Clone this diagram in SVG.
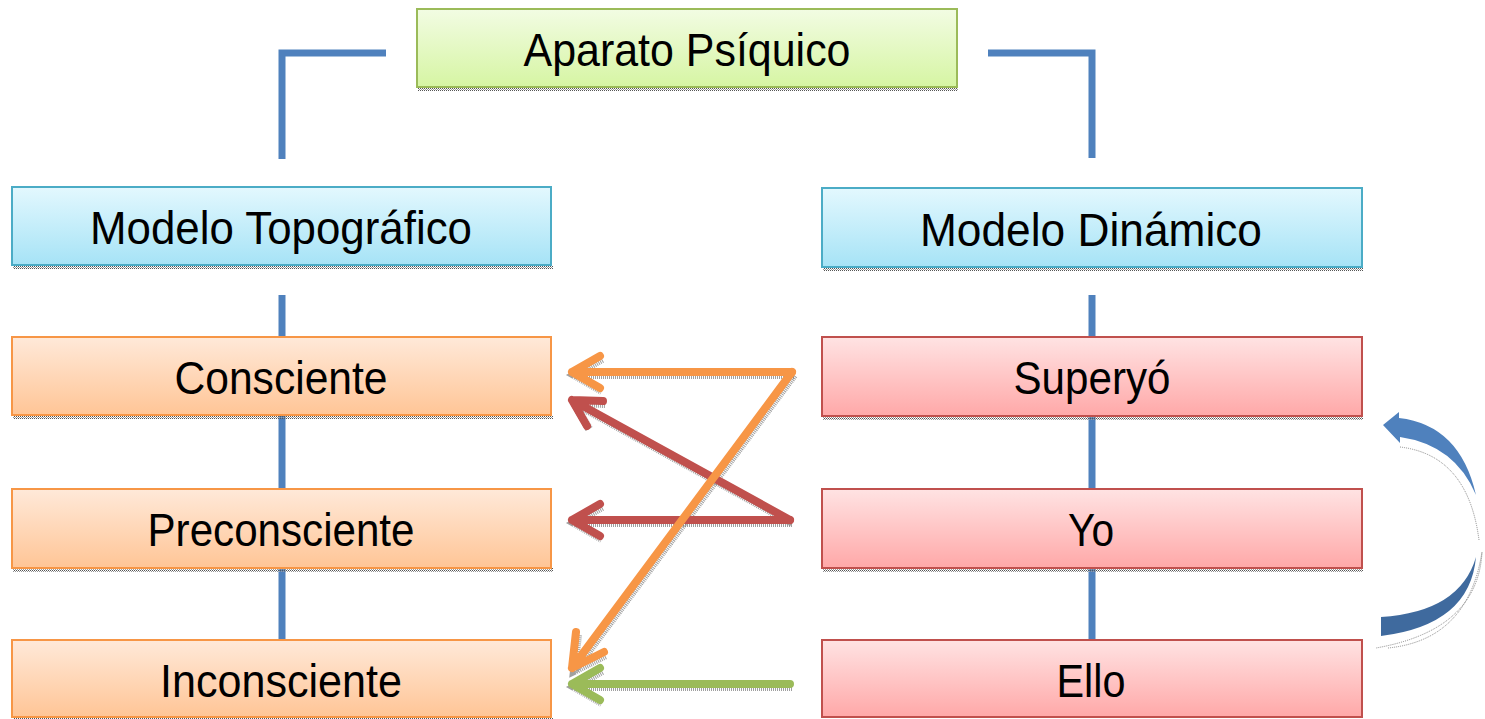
<svg xmlns="http://www.w3.org/2000/svg" width="1485" height="719" viewBox="0 0 1485 719">
<defs>
<linearGradient id="gGreen" x1="0" y1="0" x2="0" y2="1"><stop offset="0" stop-color="#F2FCE3"/><stop offset="1" stop-color="#D6F5A3"/></linearGradient>
<linearGradient id="gBlue" x1="0" y1="0" x2="0" y2="1"><stop offset="0" stop-color="#E3F8FE"/><stop offset="1" stop-color="#A6E3F6"/></linearGradient>
<linearGradient id="gOrange" x1="0" y1="0" x2="0" y2="1"><stop offset="0" stop-color="#FFE9D9"/><stop offset="1" stop-color="#FFC596"/></linearGradient>
<linearGradient id="gRed" x1="0" y1="0" x2="0" y2="1"><stop offset="0" stop-color="#FFE3E3"/><stop offset="1" stop-color="#FFA8A8"/></linearGradient>
<linearGradient id="gCurve" x1="0" y1="0" x2="0" y2="1"><stop offset="0" stop-color="#4F81BD"/><stop offset="1" stop-color="#3A6297"/></linearGradient>
<pattern id="dots" width="2" height="2" patternUnits="userSpaceOnUse"><rect width="1" height="1" fill="#555"/><rect x="1" y="1" width="1" height="1" fill="#999"/></pattern>
</defs>
<style>
.box{stroke-width:2}
.green{fill:url(#gGreen);stroke:#9BBB59}
.blue{fill:url(#gBlue);stroke:#4BACC6}
.orange{fill:url(#gOrange);stroke:#F79646}
.red{fill:url(#gRed);stroke:#C0504D}
.sh{fill:url(#dots)}
.lbl{font-family:"Liberation Sans",Arial,sans-serif;font-size:46px;fill:#000;text-anchor:middle}
.conn{stroke:#4F81BD;stroke-width:7;fill:none}
.arr{fill:none;stroke-width:8;stroke-linecap:round;stroke-linejoin:round}
.ash{fill:none;stroke:#777;stroke-width:8;stroke-dasharray:1 1;stroke-linecap:butt;opacity:0.7}
</style>

<g id="connectors">
<polyline class="conn" points="386,53 282,53 282,159"/>
<polyline class="conn" points="988,53 1092,53 1092,158"/>
<line class="conn" x1="282" y1="295" x2="282" y2="337"/>
<line class="conn" x1="282" y1="416" x2="282" y2="489"/>
<line class="conn" x1="282" y1="569" x2="282" y2="640"/>
<line class="conn" x1="1092" y1="295" x2="1092" y2="337"/>
<line class="conn" x1="1092" y1="417" x2="1092" y2="489"/>
<line class="conn" x1="1092" y1="569" x2="1092" y2="640"/>

<!-- shadows of arrows -->
<g transform="translate(2,3)">
<path class="ash" d="M792,372 L572,372 M600,356 L572,372 L600,388"/>
<path class="ash" d="M792,372 L572,668 M576,632 L572,668 L604,652"/>
<path class="ash" d="M790,520 L572,400 M603,401 L572,400 L587,426"/>
<path class="ash" d="M790,520 L572,520 M600,504 L572,520 L600,536"/>
<path class="ash" d="M790,684 L572,684 M600,668 L572,684 L600,700"/>
</g>
<path class="arr" stroke="#F79646" d="M792,372 L572,372 M600,356 L572,372 L600,388"/>
<path class="arr" stroke="#C0504D" d="M790,520 L572,400 M603,401 L572,400 L587,426"/>
<path class="arr" stroke="#C0504D" d="M790,520 L572,520 M600,504 L572,520 L600,536"/>
<path class="arr" stroke="#F79646" d="M792,372 L572,668 M576,632 L572,668 L604,652"/>
<path class="arr" stroke="#9BBB59" d="M790,684 L572,684 M600,668 L572,684 L600,700"/>

<!-- curved arrow -->
<path d="M1388,648 Q1468,640 1482,552 Q1478,630 1376,648" fill="none" stroke="#888" stroke-width="1" stroke-dasharray="1 1"/>
<path d="M1381,617 Q1460,612 1476,557 Q1470,625 1381,636 Z" fill="#3F6A9E"/>
<path d="M1400,447 Q1468,455 1479,540" fill="none" stroke="#888" stroke-width="1" stroke-dasharray="1 1"/>
<path d="M1383,425 L1399,412 L1399,418 Q1460,425 1476,495 Q1455,445 1400,437 L1400,443 Z" fill="#4F81BD"/>
</g>

<g id="n-aparato">
<rect class="sh" x="418" y="87" width="540" height="4"/>
<rect class="box green" x="417" y="9" width="540" height="78"/>
<text class="lbl" x="687" y="66" textLength="327" lengthAdjust="spacingAndGlyphs">Aparato Psíquico</text>
</g>
<g id="n-topografico">
<rect class="sh" x="13" y="265" width="540" height="4"/>
<rect class="box blue" x="12" y="187" width="539" height="78"/>
<text class="lbl" x="281" y="244" textLength="382" lengthAdjust="spacingAndGlyphs">Modelo Topográfico</text>
</g>
<g id="n-dinamico">
<rect class="sh" x="823" y="267" width="540" height="4"/>
<rect class="box blue" x="822" y="188" width="540" height="79"/>
<text class="lbl" x="1091" y="246" textLength="342" lengthAdjust="spacingAndGlyphs">Modelo Dinámico</text>
</g>
<g id="n-consciente">
<rect class="sh" x="13" y="415" width="540" height="4"/>
<rect class="box orange" x="12" y="337" width="539" height="78"/>
<text class="lbl" x="281" y="394" textLength="213" lengthAdjust="spacingAndGlyphs">Consciente</text>
</g>
<g id="n-preconsciente">
<rect class="sh" x="13" y="568" width="540" height="4"/>
<rect class="box orange" x="12" y="489" width="539" height="79"/>
<text class="lbl" x="281" y="546" textLength="267" lengthAdjust="spacingAndGlyphs">Preconsciente</text>
</g>
<g id="n-inconsciente">
<rect class="sh" x="13" y="718" width="540" height="1"/>
<rect class="box orange" x="12" y="640" width="539" height="77"/>
<text class="lbl" x="281" y="697" textLength="242" lengthAdjust="spacingAndGlyphs">Inconsciente</text>
</g>
<g id="n-superyo">
<rect class="sh" x="823" y="416" width="540" height="4"/>
<rect class="box red" x="822" y="337" width="540" height="79"/>
<text class="lbl" x="1092" y="394" textLength="157" lengthAdjust="spacingAndGlyphs">Superyó</text>
</g>
<g id="n-yo">
<rect class="sh" x="823" y="568" width="540" height="4"/>
<rect class="box red" x="822" y="489" width="540" height="79"/>
<text class="lbl" x="1091" y="546" textLength="46" lengthAdjust="spacingAndGlyphs">Yo</text>
</g>
<g id="n-ello">
<rect class="box red" x="822" y="640" width="540" height="77"/>
<text class="lbl" x="1091" y="697" textLength="69" lengthAdjust="spacingAndGlyphs">Ello</text>
</g>
</svg>
